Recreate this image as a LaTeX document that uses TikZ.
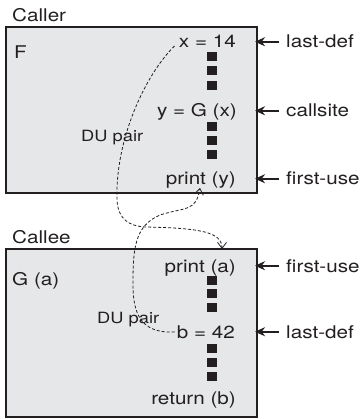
\documentclass[tikz,border=0pt]{standalone}
\usepackage{fontspec}
\setmainfont[FakeStretch=1.18]{TeX Gyre Heros}
\usetikzlibrary{arrows.meta}
\definecolor{boxfill}{HTML}{E6E7E8}
\definecolor{ink}{HTML}{231F20}
\begin{document}
\begin{tikzpicture}[x=1pt,y=-1pt,
  font=\fontsize{17.5}{20}\selectfont,
  frame/.style={draw=ink, line width=2pt, fill=boxfill, minimum width=251pt, inner sep=0pt},
  txt/.style={inner sep=0pt, text=ink},
  duf/.style={inner sep=0pt, text=ink, anchor=base west, font=\fontsize{15.5}{18}\selectfont},
  sqr/.style={fill=ink, minimum width=10pt, minimum height=9pt, inner sep=0pt},
  callout/.style={draw=ink, line width=2.4pt, shorten >=-3pt, -{Stealth[length=10pt,width=9pt]}},
  duline/.style={draw=ink, line width=0.8pt, dash pattern=on 3pt off 2pt, -{Straight Barb[length=6pt,width=9pt]}}]
\useasboundingbox (0,0) rectangle (363,419);
% boxes
\node[frame, minimum height=166pt] (F) at (131.5,110) {};
\node[frame, minimum height=168pt] (G) at (131.5,333) {};
% titles
\node[txt, anchor=base west] (callerlbl) at (12,22) {Caller};
\node[txt, anchor=base west] (Fname) at (14,59) {F};
\node[txt, anchor=base west] (calleelbl) at (12,243) {Callee};
\node[txt, anchor=base west] (Gname) at (12,285) {G (a)};
% statements
\node[txt, anchor=base east] (xdef) at (236,48) {x = 14};
\node[txt, anchor=base east] (call) at (237,117) {y = G (x)};
\node[txt, anchor=base east] (usey) at (236,185) {print (y)};
\node[txt, anchor=base east] (usea) at (236,272) {print (a)};
\node[txt, anchor=base east] (bdef) at (235,338) {b = 42};
\node[txt, anchor=base east] (ret) at (236,404) {return (b)};
% squares
\foreach \y [count=\i] in {57,71,85.5,127,141,155,280,293.5,307,348.5,362.5,376.5}
  \node[sqr] (s\i) at (212,\y) {};
% side labels
\node[txt, anchor=base west] (ld1) at (286,48) {last-def};
\node[txt, anchor=base west] (cs) at (286,117) {callsite};
\node[txt, anchor=base west] (fu1) at (286,185) {first-use};
\node[txt, anchor=base west] (fu2) at (286,272) {first-use};
\node[txt, anchor=base west] (ld2) at (286,338) {last-def};
\foreach \n/\b in {ld1/F, cs/F, fu1/F, fu2/G, ld2/G}
  \draw[callout] ([xshift=-7pt]\n.west) -- (\n.west -| \b.east);
% DU pair labels
\node[duf] (du1) at (81,142) {DU pair};
\node[duf] (du2) at (97,323) {DU pair};
% DU curves
\coordinate (tipa) at (222,249);
\coordinate (tipy) at (200,188);
\draw[duline, shorten <=6pt] (xdef.west) .. controls (145,75) and (115,140) .. (117,200)
  .. controls (118,220) and (130,226) .. (145,227)
  .. controls (200,228) and (222,232) .. (tipa);
\draw[duline, shorten <=2pt] (bdef.west) .. controls (140,334) and (133,312) .. (133,285)
  .. controls (133,250) and (134,226) .. (160,215)
  .. controls (185,207) and (196,212) .. (tipy);
\end{tikzpicture}
\end{document}
